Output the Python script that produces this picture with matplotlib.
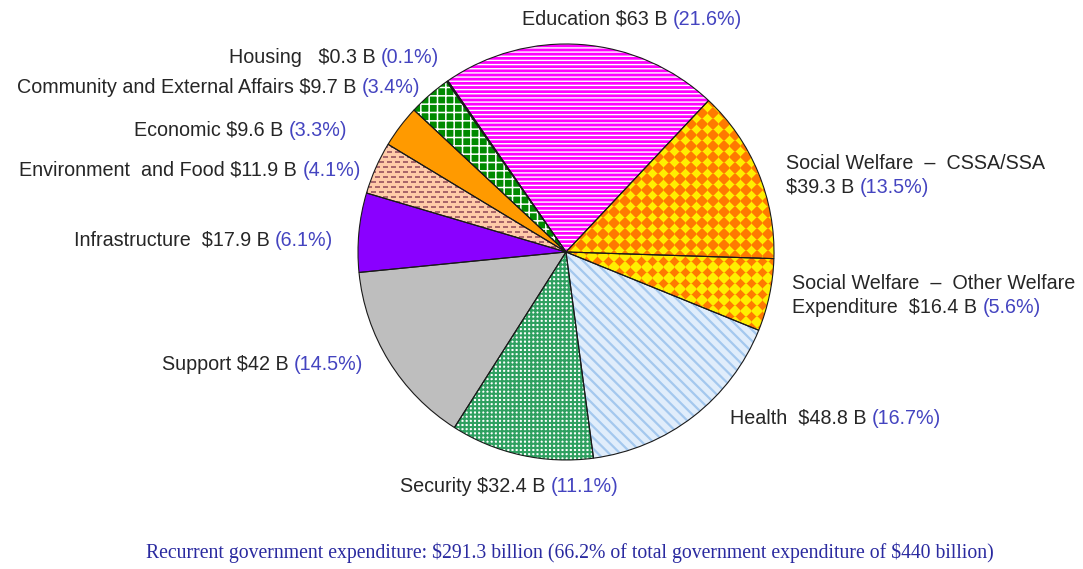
import numpy as np
import matplotlib.pyplot as plt
from matplotlib.colors import to_rgb

plt.rcParams["text.parse_math"] = False

# recurrent expenditure by policy area, HK$ billion
areas = ["Education", "Social Welfare \u2013 CSSA/SSA",
         "Social Welfare \u2013 Other Welfare Expenditure", "Health", "Security",
         "Support", "Infrastructure", "Environment and Food", "Economic",
         "Community and External Affairs", "Housing"]
amounts = [63, 39.3, 16.4, 48.8, 32.4, 42, 17.9, 11.9, 9.6, 9.7, 0.3]
shares = ["21.6%", "13.5%", "5.6%", "16.7%", "11.1%", "14.5%", "6.1%",
          "4.1%", "3.3%", "3.4%", "0.1%"]

# text lines per label: (first line, name/amount part on the line with the share)
label_text = [
    (None, "Education $63 B"),
    ("Social Welfare  \u2013  CSSA/SSA", "$39.3 B"),
    ("Social Welfare  \u2013  Other Welfare", "Expenditure  $16.4 B"),
    (None, "Health  $48.8 B"),
    (None, "Security $32.4 B"),
    (None, "Support $42 B"),
    (None, "Infrastructure  $17.9 B"),
    (None, "Environment  and Food $11.9 B"),
    (None, "Economic $9.6 B"),
    (None, "Community and External Affairs $9.7 B"),
    (None, "Housing   $0.3 B"),
]
# label anchors in pixels (x, y of the share line, alignment)
label_pos = [(522, 19, "left"), (786, 187, "left"), (792, 307, "left"),
             (730, 418, "left"), (400, 486, "left"), (363, 365, "right"),
             (333, 240, "right"), (361, 170, "right"), (347, 130, "right"),
             (420, 87, "right"), (439, 57, "right")]

faces = ["#FF00FF", "none", "none", "#E0EDFB", "#FFFFFF", "#BEBEBE",
         "#8A00FF", "none", "#FF9A00", "#008A00", "#00006A"]
hatch_cols = ["#FFFFFF", "none", "none", "#A4C8EE", "#2EA060", "#BEBEBE",
              "#8A00FF", "none", "#FF9A00", "#FFFFFF", "#00006A"]
hatches = ["----", None, None, "\\\\\\", "++++", None, None, None, None, "++", None]
hatch_lws = [1.0, 1, 1, 1.6, 1.5, 1, 1, 1, 1, 1.1, 1]
# bitmap fills: wedge index -> (pattern, background, pattern colour)
textures = {1: ("diamonds", "#FF7A00", "#FFEE00"),
            2: ("diamonds", "#FFEE00", "#FF7A00"),
            7: ("dashes", "#FFCBA8", "#9A5560")}

W, H = 1083, 569
fig = plt.figure(figsize=(W / 100, H / 100), dpi=100)
ax = fig.add_axes([0, 0, 1, 1])

cx, cy, r = 566, H - 252, 208
start = 124.6

wedges, _ = ax.pie(amounts, center=(cx, cy), radius=r, startangle=start,
                   counterclock=False, wedgeprops=dict(linewidth=0))
for w, fc, hc, hp, lw in zip(wedges, faces, hatch_cols, hatches, hatch_lws):
    w.set_facecolor(fc)
    w.set_edgecolor(hc)
    if hp:
        w.set_hatch(hp)
        w.set_hatch_linewidth(lw)


def make_texture(kind, bg, fg, n):
    yy, xx = np.mgrid[0:n, 0:n].astype(float)
    if kind == "diamonds":
        p = 11
        u = np.abs((xx % p) - p / 2)
        v = np.abs((yy % p) - p / 2)
        # small diamonds centred on the lattice corners
        t = np.clip((u + v - 0.56 * p) / 1.5 + 0.5, 0, 1)
    else:
        row = (yy // 5).astype(int)
        shift = (row % 2) * 4
        on_row = (yy % 5) < 1.5
        on_dash = ((xx + shift) % 8) < 5
        t = (on_row & on_dash).astype(float) * 0.85
    a, b = np.array(to_rgb(bg)), np.array(to_rgb(fg))
    return a * (1 - t[..., None]) + b * t[..., None]


n = 2 * r + 6
x0, y0 = cx - r - 3, cy - r - 3
for idx, (kind, bg, fg) in textures.items():
    img = ax.imshow(make_texture(kind, bg, fg, n),
                    extent=(x0, x0 + n, y0, y0 + n),
                    interpolation="nearest", zorder=1.5)
    img.set_clip_path(wedges[idx])

# outlines on top
outl, _ = ax.pie(amounts, center=(cx, cy), radius=r, startangle=start,
                 counterclock=False,
                 wedgeprops=dict(fill=False, edgecolor="#1A1A1A", linewidth=0.8))
for w in outl:
    w.set_zorder(3)

ax.set_xlim(0, W)
ax.set_ylim(0, H)
ax.set_aspect("auto")
ax.axis("off")

FS = 14.2
DARK = "#262626"
BLUE = "#4444C0"
fig.canvas.draw()
rend = fig.canvas.get_renderer()


def width_of(s):
    t = ax.text(0, 0, s, fontsize=FS, family="Liberation Sans")
    w = t.get_window_extent(rend).width
    t.remove()
    return w


space = width_of("a a") - width_of("aa")

for (first, main), share, (x, y, ha) in zip(label_text, shares, label_pos):
    pct = "(" + share + ")"
    wm = width_of(main)
    wp = width_of(pct)
    xs = x if ha == "left" else x - (wm + space + wp)
    yd = H - y
    ax.text(xs, yd, main, fontsize=FS, family="Liberation Sans", color=DARK,
            va="center", ha="left")
    ax.text(xs + wm + space, yd, pct, fontsize=FS, family="Liberation Sans",
            color=BLUE, va="center", ha="left")
    if first:
        ax.text(xs, yd + 24, first, fontsize=FS, family="Liberation Sans",
                color=DARK, va="center", ha="left")

ax.text(570, H - 553,
        "Recurrent government expenditure: $291.3 billion "
        "(66.2% of total government expenditure of $440 billion)",
        fontsize=14.2, family="Liberation Serif", color="#2A2AA0",
        ha="center", va="center")

fig.savefig("out.png", dpi=100)
